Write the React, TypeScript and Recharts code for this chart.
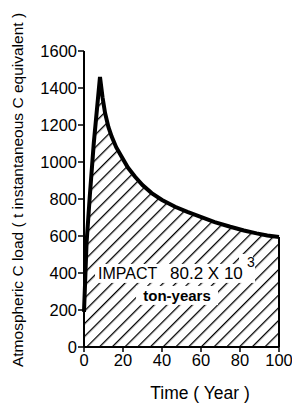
import React from 'react';
import { ComposedChart, Area, XAxis, YAxis, ReferenceLine, ReferenceDot, Label } from 'recharts';

const times = [0, 0.5, 1.3, 3, 5, 8.2, 9.5, 10.8, 12.5, 14.2, 16.5, 19.3, 22.5, 26.2, 30, 34.7, 40, 46.7, 53, 59.5, 67, 75, 82, 88.5, 94, 100];
const load = [190, 330, 560, 820, 1100, 1460, 1350, 1265, 1190, 1137, 1080, 1028, 970, 920, 875, 832, 795, 758, 730, 705, 675, 650, 630, 614, 603, 595];
const xTicks = [0, 20, 40, 60, 80, 100];
const yTicks = [0, 200, 400, 600, 800, 1000, 1200, 1400, 1600];
const xTitle = 'Time ( Year )';
const yTitle = 'Atmospheric C load ( t instantaneous C equivalent )';
const impactWord = 'IMPACT';
const impactValue = '80.2 X 10';
const impactExp = '3';
const impactUnit = 'ton-years';
const impactAnchor = { t: 7.2, v: 368 };

const data = times.map((t, i) => ({ t, load: load[i] }));
const FONT = '"Liberation Sans", Arial, sans-serif';

const XTitle = (props: any) => {
  const vb = props.viewBox;
  return (
    <text x={vb.x + vb.width / 2 + 18.5} y={vb.y + 46} textAnchor="middle" dominantBaseline="central" fontSize={17.5} fontFamily={FONT} fill="#000">
      {xTitle}
    </text>
  );
};

const YTitle = (props: any) => {
  const vb = props.viewBox;
  const x = vb.x + 17;
  const y = vb.y + vb.height / 2 - 9;
  return (
    <text x={x} y={y} transform={`rotate(-90, ${x}, ${y})`} textAnchor="middle" dominantBaseline="central" fontSize={15.5} fontFamily={FONT} fill="#000">
      {yTitle}
    </text>
  );
};

const ImpactLabel = (props: any) => {
  const vb = props.viewBox;
  const x = vb.x + (vb.width || 0) / 2;
  const y = vb.y + (vb.height || 0) / 2;
  return (
    <g fontFamily={FONT} fill="#000">
      <rect x={x - 3} y={y - 15} width={160} height={19} fill="#fff" />
      <rect x={x + 141} y={y - 25} width={14} height={12} fill="#fff" />
      <rect x={x + 38} y={y + 7} width={82} height={19} fill="#fff" />
      <text x={x} y={y} fontSize={16}>{impactWord}</text>
      <text x={x + 72} y={y} fontSize={17}>{impactValue}</text>
      <text x={x + 149} y={y - 12} fontSize={14}>{impactExp}</text>
      <text x={x + 79} y={y + 22} fontSize={15} fontWeight="bold" textAnchor="middle">{impactUnit}</text>
    </g>
  );
};

export default function App() {
  return (
    <div style={{ position: 'absolute', left: 0, top: 0, width: 292, height: 403, background: '#fff' }}>
      <svg width={0} height={0} style={{ position: 'absolute' }}>
        <defs>
          <pattern id="hatch" patternUnits="userSpaceOnUse" width={9} height={9} patternTransform="rotate(45)">
            <rect x={0} y={0} width={9} height={9} fill="#fff" />
            <line x1={0} y1={0} x2={0} y2={9} stroke="#000" strokeWidth={2.6} />
          </pattern>
        </defs>
      </svg>
      <ComposedChart width={292} height={403} data={data} margin={{ top: 51, right: 13, bottom: 0, left: 0 }}>
        <XAxis
          dataKey="t"
          type="number"
          domain={[0, 100]}
          ticks={xTicks}
          height={56}
          tickSize={5}
          tickMargin={2}
          axisLine={{ stroke: '#000', strokeWidth: 2 }}
          tickLine={{ stroke: '#000', strokeWidth: 1.5 }}
          tick={{ fill: '#000', fontSize: 16.5, fontFamily: FONT }}
          label={<Label content={XTitle} />}
        />
        <YAxis
          type="number"
          domain={[0, 1600]}
          ticks={yTicks}
          width={84}
          tickSize={6}
          tickMargin={1}
          axisLine={{ stroke: '#000', strokeWidth: 2 }}
          tickLine={{ stroke: '#000', strokeWidth: 1.5 }}
          tick={{ fill: '#000', fontSize: 16.5, fontFamily: FONT }}
          label={<Label content={YTitle} />}
        />
        <Area
          dataKey="load"
          type="linear"
          baseValue={0}
          fill="url(#hatch)"
          fillOpacity={1}
          stroke="#000"
          strokeWidth={4}
          strokeLinejoin="miter"
          isAnimationActive={false}
        />
        <ReferenceLine segment={[{ x: 100, y: 0 }, { x: 100, y: 595 }]} stroke="#000" strokeWidth={2} />
        <ReferenceDot x={impactAnchor.t} y={impactAnchor.v} r={0} fill="none" stroke="none" label={<Label content={ImpactLabel} />} />
      </ComposedChart>
    </div>
  );
}
